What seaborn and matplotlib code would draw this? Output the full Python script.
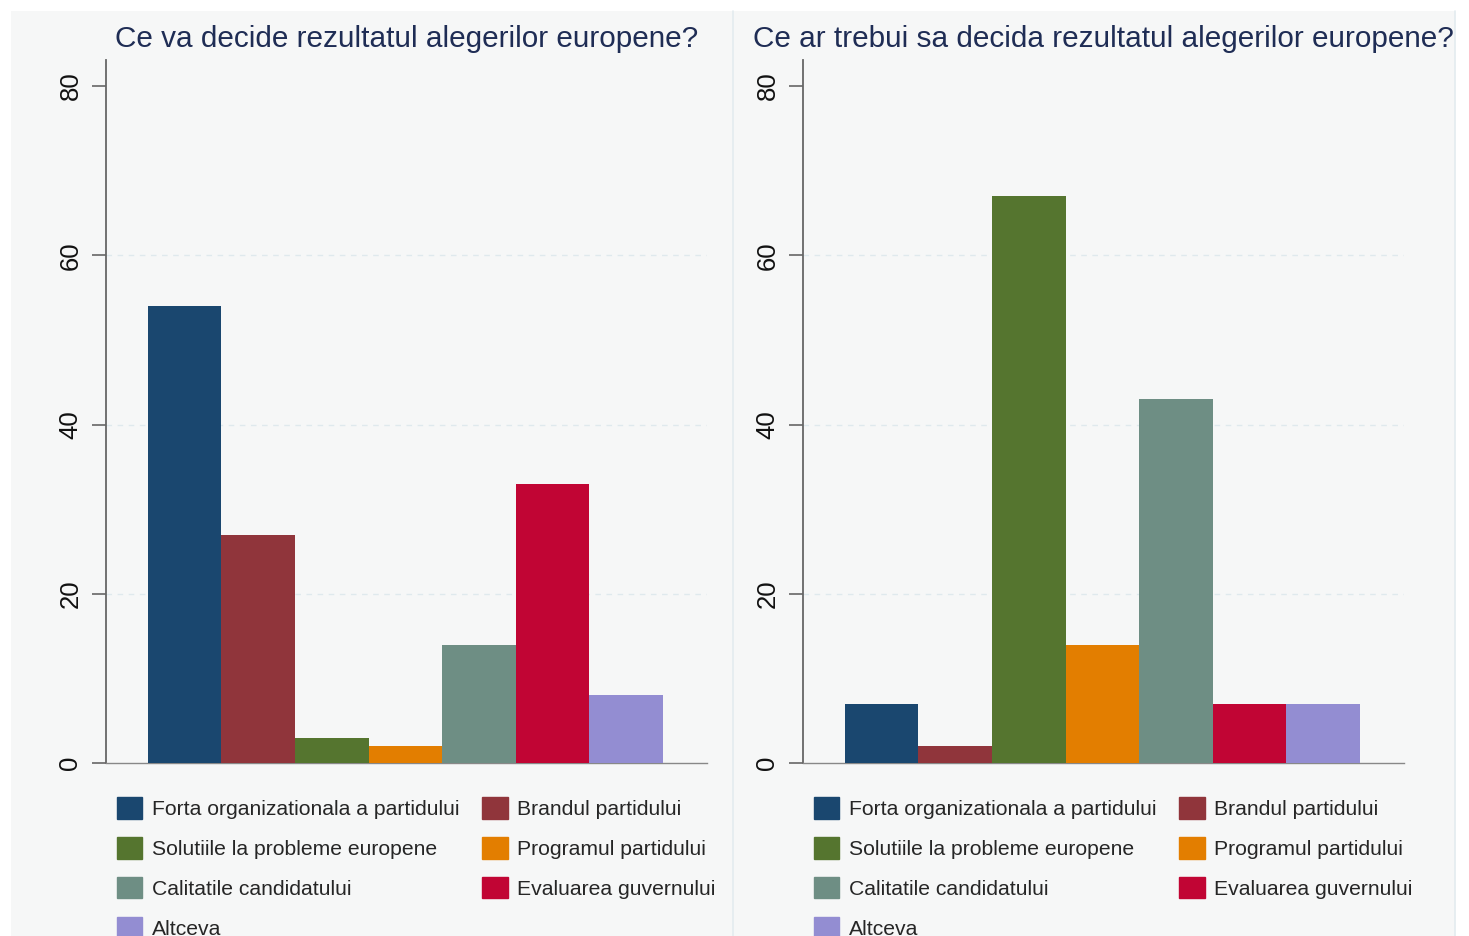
import matplotlib
matplotlib.use("Agg")
import matplotlib.pyplot as plt
from matplotlib.patches import Patch, Rectangle
from matplotlib.lines import Line2D
import seaborn as sns
import pandas as pd

categories = ["Forta organizationala a partidului", "Brandul partidului",
              "Solutiile la probleme europene", "Programul partidului",
              "Calitatile candidatului", "Evaluarea guvernului", "Altceva"]
values_will = [54, 27, 3, 2, 14, 33, 8]
values_should = [7, 2, 67, 14, 43, 7, 7]
titles = ["Ce va decide rezultatul alegerilor europene?",
          "Ce ar trebui sa decida rezultatul alegerilor europene?"]
yticks = [0, 20, 40, 60, 80]
colors = ["#1a476f", "#90353b", "#55752f", "#e37e00", "#6e8e84", "#c10534", "#938dd2"]

sns.set_style("white")
plt.rcParams['font.family'] = ['Liberation Sans', 'DejaVu Sans']

W, H = 1469, 936
fig = plt.figure(figsize=(W / 100, H / 100), dpi=100)
fig.patch.set_facecolor("white")
bg = "#f6f7f7"
fig.patches.append(Rectangle((11 / W, 0), (1455 - 11) / W, (H - 11) / H,
                             transform=fig.transFigure, facecolor=bg,
                             edgecolor="none", zorder=-10))
fig.lines.append(Line2D([733 / W, 733 / W], [0, (H - 11) / H], transform=fig.transFigure,
                        color="#e3ebef", lw=1.2, zorder=-5))
fig.lines.append(Line2D([1455 / W, 1455 / W], [0, (H - 11) / H], transform=fig.transFigure,
                        color="#e3ebef", lw=1.2, zorder=-5))

ax_top = 60
ax_bot = 763
axes_left = [106, 803]
ax_w = 601
ymax = (ax_bot - ax_top) / ((ax_bot - 86) / 80)

legend_order = [0, 2, 4, 6, 1, 3, 5]

for i, (vals, title) in enumerate([(values_will, titles[0]), (values_should, titles[1])]):
    ax = fig.add_axes([axes_left[i] / W, (H - ax_bot) / H, ax_w / W, (ax_bot - ax_top) / H])
    ax.set_facecolor(bg)
    df = pd.DataFrame({"cat": categories, "val": vals})
    sns.barplot(data=df, x="cat", y="val", hue="cat", palette=colors, dodge=False,
                width=1.0, legend=False, ax=ax, edgecolor=None, linewidth=0,
                saturation=1.0, zorder=3)
    ax.set_xlim(-1.07, 7.1)
    ax.set_ylim(0, ymax)
    ax.set_yticks(yticks)
    ax.set_yticklabels([str(t) for t in yticks], rotation=90, va="center", fontsize=18.5,
                       color="#111111")
    ax.tick_params(axis="y", length=10, width=1.2, color="#666666", pad=7, left=True)
    ax.set_xticks([])
    ax.set_xlabel("")
    ax.set_ylabel("")
    for y in yticks[1:-1]:
        ax.axhline(y, color="#dfe9ed", lw=1.0, ls=(0, (4, 4)), zorder=1)
    for s in ["top", "right"]:
        ax.spines[s].set_visible(False)
    ax.spines["left"].set_color("#666666")
    ax.spines["left"].set_linewidth(1.3)
    ax.spines["bottom"].set_color("#888888")
    ax.spines["bottom"].set_linewidth(1.0)
    ax.text(0.5, 1 + (ax_top - 39) / (ax_bot - ax_top), title, transform=ax.transAxes,
            ha="center", va="center", fontsize=21.4, color="#1f2d55")
    handles = [Patch(facecolor=colors[k], edgecolor=colors[k], label=categories[k])
               for k in legend_order]
    ax.legend(handles=handles, ncol=2, loc="upper left",
              bbox_to_anchor=(0.018, -(797 - ax_bot) / (ax_bot - ax_top)),
              frameon=False, fontsize=15.2, handlelength=1.2, handleheight=1.2,
              handletextpad=0.45, labelspacing=0.85, columnspacing=1.1,
              borderpad=0, borderaxespad=0)

fig.savefig("out.png", dpi=100, facecolor=fig.get_facecolor())
